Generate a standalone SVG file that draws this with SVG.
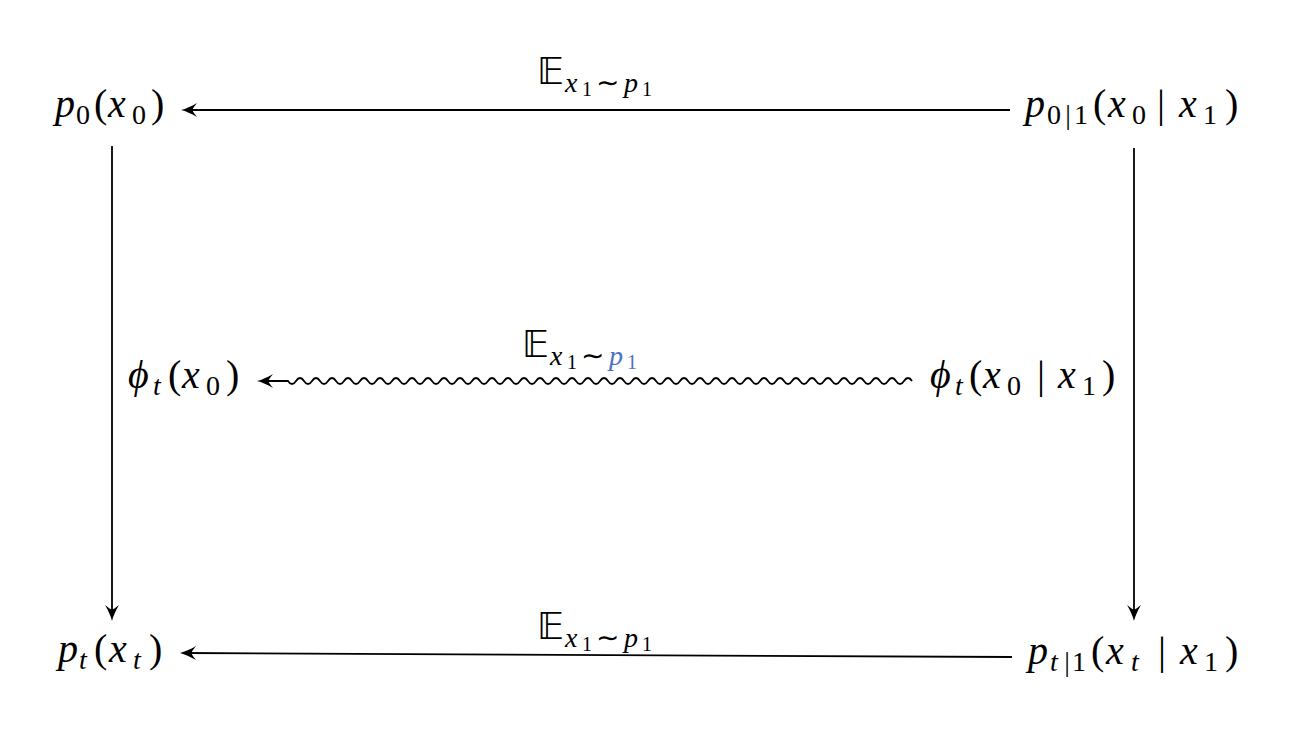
<svg xmlns="http://www.w3.org/2000/svg" width="1298" height="736" viewBox="0 0 1298 736">
<style>
text{font-family:'Liberation Serif','Times New Roman',serif;font-size:40px;fill:#000}
.i{font-style:italic}
.s{font-size:28px}
.ss{font-size:20px}
.bb{font-family:'DejaVu Sans',sans-serif;font-size:37px;font-style:normal}
.c{text-anchor:middle}
.blue{fill:#4a74c0}
.edge{fill:none;stroke:#000;stroke-width:1.8}
</style>
<defs>
<marker id="ah" markerUnits="userSpaceOnUse" viewBox="-18 -9 20 18" markerWidth="20" markerHeight="18" refX="-5" refY="0" orient="auto" overflow="visible">
<path d="M0,0 C-5,-1.2 -10,-3.5 -16,-7 C-13,-3 -11.5,-1.2 -11.5,0 C-11.5,1.2 -13,3 -16,7 C-10,3.5 -5,1.2 0,0 Z" fill="#000"/>
</marker>
</defs>
<g id="connectors">
<path class="edge" d="M1010,110 L186,110" marker-end="url(#ah)"/>
<path class="edge" d="M112,146 L112,616" marker-end="url(#ah)"/>
<path class="edge" d="M1134,148 L1134,616" marker-end="url(#ah)"/>
<path class="edge" d="M1012,657 L185,653" marker-end="url(#ah)"/>
<path class="edge" d="M912,381 c-2.5,-4 -5.5,-4 -8,0 s-5.5,4 -8,0 s-5.5,-4 -8,0 s-5.5,4 -8,0 s-5.5,-4 -8,0 s-5.5,4 -8,0 s-5.5,-4 -8,0 s-5.5,4 -8,0 s-5.5,-4 -8,0 s-5.5,4 -8,0 s-5.5,-4 -8,0 s-5.5,4 -8,0 s-5.5,-4 -8,0 s-5.5,4 -8,0 s-5.5,-4 -8,0 s-5.5,4 -8,0 s-5.5,-4 -8,0 s-5.5,4 -8,0 s-5.5,-4 -8,0 s-5.5,4 -8,0 s-5.5,-4 -8,0 s-5.5,4 -8,0 s-5.5,-4 -8,0 s-5.5,4 -8,0 s-5.5,-4 -8,0 s-5.5,4 -8,0 s-5.5,-4 -8,0 s-5.5,4 -8,0 s-5.5,-4 -8,0 s-5.5,4 -8,0 s-5.5,-4 -8,0 s-5.5,4 -8,0 s-5.5,-4 -8,0 s-5.5,4 -8,0 s-5.5,-4 -8,0 s-5.5,4 -8,0 s-5.5,-4 -8,0 s-5.5,4 -8,0 s-5.5,-4 -8,0 s-5.5,4 -8,0 s-5.5,-4 -8,0 s-5.5,4 -8,0 s-5.5,-4 -8,0 s-5.5,4 -8,0 s-5.5,-4 -8,0 s-5.5,4 -8,0 s-5.5,-4 -8,0 s-5.5,4 -8,0 s-5.5,-4 -8,0 s-5.5,4 -8,0 s-5.5,-4 -8,0 s-5.5,4 -8,0 s-5.5,-4 -8,0 s-5.5,4 -8,0 s-5.5,-4 -8,0 s-5.5,4 -8,0 s-5.5,-4 -8,0 s-5.5,4 -8,0 s-5.5,-4 -8,0 s-5.5,4 -8,0 s-5.5,-4 -8,0 s-5.5,4 -8,0 s-5.5,-4 -8,0 s-5.5,4 -8,0 s-5.5,-4 -8,0 s-5.5,4 -8,0 s-5.5,-4 -8,0 s-5.5,4 -8,0 s-5.5,-4 -8,0 s-5.5,4 -8,0 s-5.5,-4 -8,0 s-5.5,4 -8,0 s-5.5,-4 -8,0 s-5.5,4 -8,0 s-5.5,-4 -8,0 s-5.5,4 -8,0 s-5.5,-4 -8,0 s-5.5,4 -8,0 L262,381" marker-end="url(#ah)"/>
</g>
<g id="label-top">
<text><tspan class="bb" x="537" y="84">𝔼</tspan><tspan class="i s" x="565" y="92">x</tspan><tspan class="ss" x="582" y="96">1</tspan><tspan class="s" x="596" y="92">∼</tspan><tspan class="i s" x="624" y="92">p</tspan><tspan class="ss" x="642" y="96">1</tspan></text>
</g>
<g id="label-mid">
<text><tspan class="bb" x="522" y="357">𝔼</tspan><tspan class="i s" x="550" y="365">x</tspan><tspan class="ss" x="567" y="369">1</tspan><tspan class="s" x="581" y="365">∼</tspan><tspan class="i s blue" x="609" y="365">p</tspan><tspan class="ss blue" x="627" y="369">1</tspan></text>
</g>
<g id="label-bottom">
<text><tspan class="bb" x="537" y="639">𝔼</tspan><tspan class="i s" x="565" y="647">x</tspan><tspan class="ss" x="582" y="651">1</tspan><tspan class="s" x="596" y="647">∼</tspan><tspan class="i s" x="624" y="647">p</tspan><tspan class="ss" x="642" y="651">1</tspan></text>
</g>
<g id="node-p0">
<text><tspan class="i" x="55" y="117">p</tspan><tspan class="s" x="76" y="124">0</tspan><tspan x="94" y="117">(</tspan><tspan class="i" x="108" y="117">x</tspan><tspan class="s" x="132" y="124">0</tspan><tspan x="151" y="117">)</tspan></text>
</g>
<g id="node-p01">
<text><tspan class="i" x="1025" y="117">p</tspan><tspan class="s" x="1047" y="124">0</tspan><tspan class="s c" x="1068" y="124">|</tspan><tspan class="s" x="1074" y="124">1</tspan><tspan x="1093" y="117">(</tspan><tspan class="i" x="1108" y="117">x</tspan><tspan class="s" x="1132" y="124">0</tspan><tspan class="c" x="1161" y="117">|</tspan><tspan class="i" x="1179" y="117">x</tspan><tspan class="s" x="1203" y="124">1</tspan><tspan x="1225" y="117">)</tspan></text>
</g>
<g id="node-phi">
<text><tspan class="i" x="128" y="388">ϕ</tspan><tspan class="i s" x="153" y="395">t</tspan><tspan x="168" y="388">(</tspan><tspan class="i" x="182" y="388">x</tspan><tspan class="s" x="206" y="395">0</tspan><tspan x="226" y="388">)</tspan></text>
</g>
<g id="node-phi1">
<text><tspan class="i" x="930" y="388">ϕ</tspan><tspan class="i s" x="955" y="395">t</tspan><tspan x="969" y="388">(</tspan><tspan class="i" x="983" y="388">x</tspan><tspan class="s" x="1007" y="395">0</tspan><tspan class="c" x="1041" y="388">|</tspan><tspan class="i" x="1058" y="388">x</tspan><tspan class="s" x="1082" y="395">1</tspan><tspan x="1102" y="388">)</tspan></text>
</g>
<g id="node-pt">
<text><tspan class="i" x="58" y="662">p</tspan><tspan class="i s" x="79" y="669">t</tspan><tspan x="94" y="662">(</tspan><tspan class="i" x="109" y="662">x</tspan><tspan class="i s" x="133" y="669">t</tspan><tspan x="149" y="662">)</tspan></text>
</g>
<g id="node-pt1">
<text><tspan class="i" x="1028" y="664">p</tspan><tspan class="i s" x="1050" y="671">t</tspan><tspan class="s c" x="1067" y="671">|</tspan><tspan class="s" x="1072" y="671">1</tspan><tspan x="1091" y="664">(</tspan><tspan class="i" x="1106" y="664">x</tspan><tspan class="i s" x="1131" y="671">t</tspan><tspan class="c" x="1162" y="664">|</tspan><tspan class="i" x="1180" y="664">x</tspan><tspan class="s" x="1204" y="671">1</tspan><tspan x="1225" y="664">)</tspan></text>
</g>
</svg>
